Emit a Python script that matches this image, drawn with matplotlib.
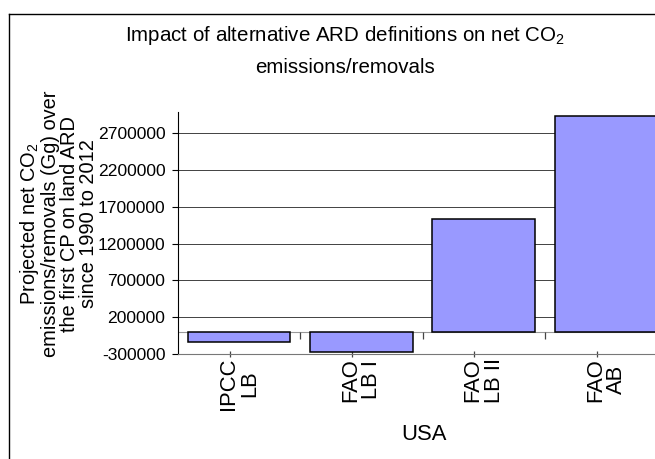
import matplotlib
matplotlib.use("Agg")
import matplotlib.pyplot as plt
from matplotlib import font_manager
from matplotlib.lines import Line2D

# ---- data ----
categories = ["IPCC\nLB", "FAO\nLB I", "FAO\nLB II", "FAO\nAB"]
values = [-140000, -276000, 1527000, 2934000]
yticks = [-300000, 200000, 700000, 1200000, 1700000, 2200000, 2700000]
group_label = "USA"
title_line1 = "Impact of alternative ARD definitions on net CO$_2$"
title_line2 = "emissions/removals"
ylabel_text = ("Projected net CO$_2$\nemissions/removals (Gg) over\n"
               "the first CP on land ARD\nsince 1990 to 2012")

names = {f.name for f in font_manager.fontManager.ttflist}
base = "Liberation Sans" if "Liberation Sans" in names else "DejaVu Sans"

plt.rcParams["font.family"] = [base, "DejaVu Sans"]
plt.rcParams["mathtext.default"] = "regular"

W, H = 655, 459
fig = plt.figure(figsize=(W / 100, H / 100), dpi=100)
fig.patch.set_facecolor("white")

# axes frame in pixels: left 178, right 667 (beyond the crop), top 112, bottom 353.7
left, right, top, bottom = 178, 667, 112, 353.7
ax = fig.add_axes([left / W, 1 - bottom / H, (right - left) / W, (bottom - top) / H])

x = list(range(len(categories)))
ax.bar(x, values, width=0.838, color="#9999FF", edgecolor="black",
       linewidth=1.1, zorder=3)

ax.set_xlim(-0.5, 3.5)
ax.set_ylim(-300000, 2990000)
ax.set_yticks(yticks)
ax.set_yticklabels([str(v) for v in yticks], fontsize=12.6)
ax.tick_params(axis="y", direction="out", length=4.5, width=0.8, pad=4.5,
               color="black")
ax.yaxis.grid(True, color="#222222", linewidth=0.6, zorder=0)
ax.set_axisbelow(True)

# category tick marks (slightly offset as in the reference) and labels
ax.set_xticks([i - 0.075 for i in x])
ax.set_xticklabels([""] * len(x))
ax.tick_params(axis="x", which="major", direction="inout", length=4,
               width=0.9, color="#444444")
ax.set_xticks(x, minor=True)
ax.set_xticklabels(categories, minor=True, rotation=90, fontsize=15.8,
                   va="top", ha="center", multialignment="center",
                   linespacing=1.0)
ax.tick_params(axis="x", which="minor", length=0, pad=3)

for s in ["top", "right"]:
    ax.spines[s].set_visible(False)
ax.spines["left"].set_color("black")
ax.spines["left"].set_linewidth(0.8)
ax.spines["bottom"].set_color("#777777")
ax.spines["bottom"].set_linewidth(0.8)

# zero axis line with category separators
ax.axhline(0, color="#999999", linewidth=0.8, zorder=1)
ax.vlines([i + 0.5 for i in x[:-1]], -95000, 0, color="#444444",
          linewidth=0.9, zorder=2)

# titles and labels
fig.text(345 / W, 1 - 40.7 / H, title_line1, ha="center", va="baseline",
         fontsize=14.8)
fig.text(345 / W, 1 - 73.3 / H, title_line2, ha="center", va="baseline",
         fontsize=14.8)
fig.text(58 / W, 1 - 224 / H, ylabel_text, rotation=90, ha="center",
         va="center", multialignment="center", fontsize=14.4,
         linespacing=1.0)
fig.text(424 / W, 1 - 434.7 / H, group_label, ha="center", va="center",
         fontsize=15.8)

# chart outer border (left and top edges visible in the crop)
fig.add_artist(Line2D([9 / W, 9 / W], [0, 1 - 14 / H], color="black",
                      linewidth=1.0, transform=fig.transFigure))
fig.add_artist(Line2D([9 / W, 1], [1 - 14 / H, 1 - 14 / H], color="black",
                      linewidth=1.0, transform=fig.transFigure))

fig.savefig("out.png", dpi=100, facecolor="white")
